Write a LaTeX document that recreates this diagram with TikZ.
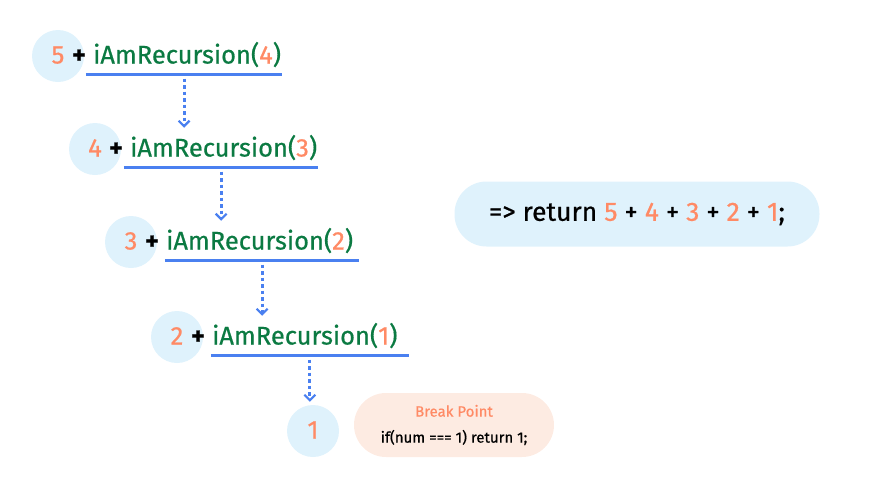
\documentclass[tikz,border=0pt]{standalone}
\usepackage{fontspec}
\setmainfont{Fira Sans}
\newfontfamily\medfont{Fira Sans}[FakeBold=0.6]
\usetikzlibrary{positioning, arrows.meta, calc}
\definecolor{numorange}{HTML}{FF8A65}
\definecolor{callgreen}{HTML}{0B7A42}
\definecolor{lineblue}{HTML}{4A80F0}
\definecolor{circblue}{HTML}{DFF2FC}
\definecolor{breakpeach}{HTML}{FDEBE2}
\newcommand{\nm}[1]{\textcolor{numorange}{#1}}
\newcommand{\bigfont}{\medfont\fontsize{25.5}{30}\selectfont}

\begin{document}
\begin{tikzpicture}[x=1pt,y=-1pt,
    numcirc/.style={circle,fill=circblue,minimum size=52pt,inner sep=0pt,
        text height=15pt,text depth=0pt,font=\bigfont,text=numorange},
    plus/.style={anchor=base,inner sep=0pt,font=\bigfont\bfseries},
    fcall/.style={anchor=base west,inner sep=0pt,font=\bigfont,text=callgreen},
    uline/.style={draw=lineblue,line width=3pt},
    callarrow/.style={draw=lineblue,line width=3pt,dash pattern=on 3.5pt off 3pt,
        -{Straight Barb[length=5.5pt,width=11pt,line width=2.2pt]}},
    pill/.style={rounded corners=32pt,minimum height=64pt,inner sep=0pt}]
    \useasboundingbox (0,0) rectangle (889,480);

    % first call
    \node[numcirc] (n5) at (58,56) {5};
    \node[plus] (p5) at ([xshift=21pt,yshift=-7.5pt]n5.center) {+};
    \node[fcall,right=7pt of p5.base east,anchor=base west] (f5) {iAmRecursion(\nm{4})};
    \draw[uline] ([xshift=-7pt,yshift=-11pt]f5.base west) coordinate (a5)
        -- ([xshift=1pt,yshift=-11pt]f5.base east) coordinate (b5);

    % second call
    \node[numcirc] (n4) at (95,149) {4};
    \node[plus] (p4) at ([xshift=21pt,yshift=-7.5pt]n4.center) {+};
    \node[fcall,right=7pt of p4.base east,anchor=base west] (f4) {iAmRecursion(\nm{3})};
    \draw[uline] ([xshift=-6pt,yshift=-11pt]f4.base west) coordinate (a4)
        -- ([xshift=1pt,yshift=-11pt]f4.base east) coordinate (b4);

    % third call
    \node[numcirc] (n3) at (131,242) {3};
    \node[plus] (p3) at ([xshift=21pt,yshift=-7.5pt]n3.center) {+};
    \node[fcall,right=7pt of p3.base east,anchor=base west] (f3) {iAmRecursion(\nm{2})};
    \draw[uline] ([xshift=-1pt,yshift=-11pt]f3.base west) coordinate (a3)
        -- ([xshift=6pt,yshift=-11pt]f3.base east) coordinate (b3);

    % fourth call
    \node[numcirc] (n2) at (177,337) {2};
    \node[plus] (p2) at ([xshift=21pt,yshift=-7.5pt]n2.center) {+};
    \node[fcall,right=7pt of p2.base east,anchor=base west] (f2) {iAmRecursion(\nm{1})};
    \draw[uline] ([xshift=-1pt,yshift=-11pt]f2.base west) coordinate (a2)
        -- ([xshift=11pt,yshift=-11pt]f2.base east) coordinate (b2);

    % last value
    \node[numcirc] (n1) at (313,431) {1};

    % arrows between the calls
    \coordinate (m5) at ($(a5)!0.5!(b5)$);
    \coordinate (m4) at ($(a4)!0.5!(b4)$);
    \coordinate (m3) at ($(a3)!0.5!(b3)$);
    \coordinate (m2) at ($(a2)!0.5!(b2)$);
    \draw[callarrow] ([yshift=-4pt]m5) -- ([yshift=7pt]m5 |- f4.north);
    \draw[callarrow] ([yshift=-4pt]m4) -- ([yshift=7pt]m4 |- f3.north);
    \draw[callarrow] ([yshift=-4pt]m3) -- ([yshift=7pt]m3 |- f2.north);
    \draw[callarrow] ([yshift=-4pt]m2) -- ([yshift=3pt]m2 |- n1.north);

    % break point
    \node[pill,fill=breakpeach,minimum width=200pt,align=center,font=\medfont\fontsize{15}{26}\selectfont]
        (brk) at (454,425) {\nm{Break Point}\\if(num === 1) return 1;};

    % result
    \node[pill,fill=circblue,minimum width=365pt,minimum height=65pt,font=\medfont\fontsize{26.5}{30}\selectfont]
        (ret) at (637,214) {=> return \nm{5} + \nm{4} + \nm{3} + \nm{2} + \nm{1};};
\end{tikzpicture}
\end{document}
